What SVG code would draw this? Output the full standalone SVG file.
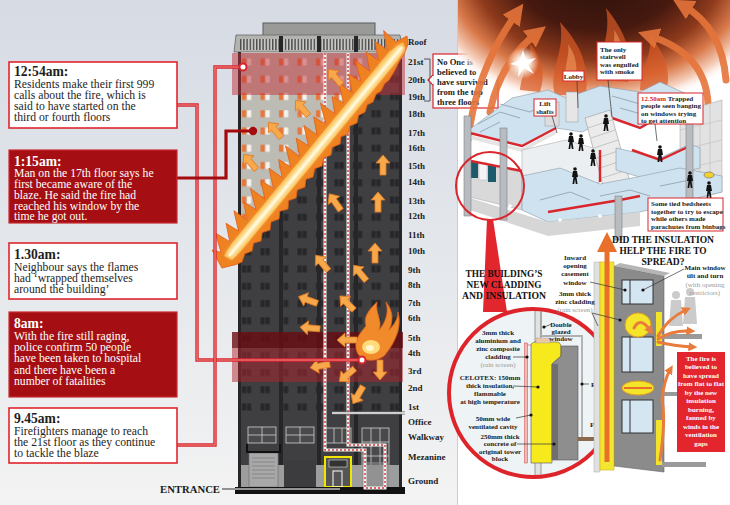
<svg xmlns="http://www.w3.org/2000/svg" width="730" height="505" viewBox="0 0 730 505">
<defs>
<style>
.t{font-family:"Liberation Serif","Times New Roman",serif}
.tt{font-weight:bold;font-size:13.6px}
.tb{font-size:11.7px}
.dk{fill:#1e1e1e}
.wt{fill:#fff}
.fl{font-family:"Liberation Serif",serif;font-weight:bold;font-size:9px;fill:#222}
.sm{font-family:"Liberation Serif",serif;font-weight:bold;font-size:7px;fill:#222}
.gr{font-weight:normal;fill:#999}
.hd{font-family:"Liberation Serif",serif;font-weight:bold;font-size:11px;fill:#111}
.wbox{fill:#fff;stroke:#e0252c;stroke-width:1.6}
.rbox{fill:#a50f14;stroke:#c92a2f;stroke-width:1.2}
.cbox{fill:#fff;stroke:#d9262d;stroke-width:1}
.lead{stroke:#333;stroke-width:.7;fill:none}
.conO{fill:none;stroke:#d8262d;stroke-width:3.4}
.conI{fill:none;stroke:#f08a8a;stroke-width:1.1}
.col{fill:#b8bcc0;stroke:#7d8185;stroke-width:.6}
.slab{fill:#cfe2ef;stroke:#8a9aa8;stroke-width:.6}
.wall{fill:none;stroke:#8c9cab;stroke-width:.8}
.red{fill:none;stroke:#d9262d;stroke-width:2.4}
.oarr{fill:none;stroke:#e5743a;stroke-width:7;stroke-linecap:round;opacity:.9}
</style>
<linearGradient id="bg" x1="0" y1="0" x2="0" y2="1">
<stop offset="0" stop-color="#d6dbe4"/><stop offset=".55" stop-color="#e5e8ec"/><stop offset="1" stop-color="#f3f3f3"/>
</linearGradient>
<radialGradient id="fireBg" cx=".5" cy=".25" r=".62">
<stop offset="0" stop-color="#24100a"/><stop offset=".45" stop-color="#46190f"/><stop offset=".66" stop-color="#8e3a1c"/><stop offset=".8" stop-color="#d9794a"/><stop offset=".92" stop-color="#f6d2bf"/><stop offset="1" stop-color="#fff" stop-opacity="0"/>
</radialGradient>
<radialGradient id="spark"><stop offset="0" stop-color="#fff"/><stop offset=".35" stop-color="#fff6e8"/><stop offset="1" stop-color="#fff" stop-opacity="0"/></radialGradient>
<pattern id="vent" width="3.2" height="11" patternUnits="userSpaceOnUse" x="240" y="39"><rect width="3.2" height="11" fill="#c9c9c5"/><rect width="1.4" height="11" fill="#4a4a4a"/></pattern>
<pattern id="wd" x="238" y="53.5" width="18.5" height="17.25" patternUnits="userSpaceOnUse"><rect x="4" y="5" width="4.2" height="7" fill="#27272a"/><rect x="9" y="5" width="4.2" height="7" fill="#27272a"/></pattern>
<pattern id="wl" x="238" y="53.5" width="18.5" height="17.25" patternUnits="userSpaceOnUse"><rect x="4" y="5" width="4.2" height="7" fill="#e8763a"/><rect x="9" y="5" width="4.2" height="7" fill="#f6f2ec"/></pattern>
<polygon id="arr" points="0,-10 7,-2 3,-2 3,10 -3,10 -3,-2 -7,-2" fill="#f6a84a" stroke="#e27a22" stroke-width=".8"/>
<g id="per"><circle cx="0" cy="-9" r="1.8"/><path d="M-2,-7 H2 L3,-1 H1.5 L2.5,6 H0.8 L0,1 L-0.8,6 H-2.5 L-1.5,-1 H-3 Z"/></g>
<marker id="ah" viewBox="0 0 10 10" refX="4" refY="5" markerWidth="3" markerHeight="3" orient="auto"><path d="M0,0 L10,5 L0,10 Z" fill="#e5743a"/></marker>
<marker id="ah2" viewBox="0 0 10 10" refX="4" refY="5" markerWidth="3" markerHeight="3" orient="auto"><path d="M0,0 L10,5 L0,10 Z" fill="#e97b3c"/></marker>
<clipPath id="cc"><circle cx="533" cy="393" r="84"/></clipPath>
<clipPath id="rp"><rect x="458" y="0" width="272" height="505"/></clipPath>
<filter id="blur" x="-20%" y="-20%" width="140%" height="140%"><feGaussianBlur stdDeviation="2"/></filter>
</defs>

<rect width="730" height="505" fill="url(#bg)"/>
<rect x="458" y="0" width="272" height="505" fill="#fff"/>
<line x1="457.5" y1="0" x2="457.5" y2="505" stroke="#c9cdd3" stroke-width="1"/>

<!-- BUILDING -->
<g id="building">
<rect x="263" y="23" width="112" height="13" fill="#9a9a98" stroke="#5a5a5a" stroke-width="1"/>
<polygon points="236,35 400,35 403,52 234,52" fill="#b3b3b0" stroke="#666" stroke-width=".8"/>
<rect x="240" y="39" width="158" height="11" fill="url(#vent)"/>
<rect x="238" y="52" width="164" height="436" fill="#3f3f41"/>
<rect x="238" y="53" width="164" height="365" fill="url(#wd)"/>
<g fill="#262628">
<rect x="279" y="36" width="4" height="430"/><rect x="317" y="36" width="4" height="430"/><rect x="354" y="36" width="4" height="430"/>
<rect x="238" y="52" width="3" height="436"/><rect x="399" y="52" width="3" height="436"/>
</g>
<polygon points="241,52 397,52 241,243" fill="#bdbcb4"/>
<polygon points="241,52 397,52 241,243" fill="url(#wl)"/>
<g stroke="#cfcfcf" stroke-width=".8" fill="#4a4a4c">
<rect x="248" y="427" width="28" height="16"/><line x1="262" y1="427" x2="262" y2="443"/><line x1="248" y1="435" x2="276" y2="435"/>
<rect x="286" y="427" width="28" height="16"/><line x1="300" y1="427" x2="300" y2="443"/><line x1="286" y1="435" x2="314" y2="435"/>
<rect x="325" y="428" width="26" height="15"/><line x1="334" y1="428" x2="334" y2="443"/><line x1="342" y1="428" x2="342" y2="443"/>
<rect x="362" y="428" width="27" height="58"/><line x1="371" y1="428" x2="371" y2="486"/><line x1="380" y1="428" x2="380" y2="486"/>
<line x1="362" y1="442" x2="389" y2="442"/><line x1="362" y1="456" x2="389" y2="456"/><line x1="362" y1="470" x2="389" y2="470"/>
</g>
<rect x="241" y="465" width="158" height="22" fill="#9d9d9d"/>
<rect x="284" y="460" width="32" height="27" fill="#3c3c3e"/>
<rect x="249" y="453" width="29" height="34" fill="#a8a8a8" stroke="#6a6a6a" stroke-width=".6"/>
<g stroke="#7a7a7a" stroke-width=".7"><line x1="252" y1="458" x2="275" y2="458"/><line x1="252" y1="462" x2="275" y2="462"/><line x1="252" y1="466" x2="275" y2="466"/><line x1="252" y1="470" x2="275" y2="470"/><line x1="252" y1="474" x2="275" y2="474"/><line x1="252" y1="478" x2="275" y2="478"/></g>
<path d="M247,444 V452 H280 V444" fill="none" stroke="#111" stroke-width="2"/>
<rect x="362" y="462" width="27" height="25" fill="#8a8a8a" opacity=".6"/>
<rect x="325" y="457" width="26" height="30" fill="#555" stroke="#f0e600" stroke-width="2"/>
<rect x="329" y="460" width="18" height="7" fill="#333" stroke="#ddd" stroke-width=".6"/>
<rect x="333" y="471" width="9" height="16" fill="none" stroke="#fff" stroke-width="1"/>
<rect x="235" y="487" width="170" height="7" fill="#121212"/>
<rect x="232" y="53" width="173" height="42" fill="#c0303a" opacity=".5"/>
<rect x="232" y="332" width="171" height="16" fill="#6a0d11" opacity=".8"/>
<rect x="232" y="348" width="171" height="34" fill="#b1262d" opacity=".5"/>
<path d="M325,53 V450 H365 V488 H385 V445 H348 V53" fill="none" stroke="#f2f2f2" stroke-width="3"/>
<path d="M325,53 V450 H365 V488 H385 V445 H348 V53" fill="none" stroke="#d2363a" stroke-width="1.4" stroke-dasharray="2 2"/>
<line x1="332" y1="413" x2="405" y2="413" stroke="#666" stroke-width="3"/>
<line x1="332" y1="413" x2="405" y2="413" stroke="#f3f3f3" stroke-width="1.5"/>
<polygon fill="#ef8220" stroke="#e25c18" stroke-width=".8" points="407,36 396,42 383.6,30.6 387.25,49.95 374.9,41.3 378.5,60.6 366.1,51.9 369.75,71.25 355.4,60.6 361,81.9 348.6,74.2 352.25,92.55 338.9,82.9 343.5,103.2 332.1,96.5 334.75,113.85 320.4,103.2 326,124.5 313.6,116.8 317.25,135.15 303.9,125.5 308.5,145.8 296.1,138.1 299.75,156.45 285.4,145.8 291,167.1 278.6,159.4 282.25,177.75 268.9,168.1 273.5,188.4 261.1,180.7 264.75,199.05 250.4,188.4 256,209.7 243.6,202 247.25,220.35 233.9,210.7 238.5,231 226.1,223.3 229.75,241.65 215.4,233 221,252.3 212,250 222,268 236,264.5 242,262 244.75,253.85 252,251 253.5,243.2 261,241 262.25,232.55 270,230 271,221.9 279,219 279.75,211.25 288,209 288.5,200.6 296,198 297.25,189.95 305,187 306,179.3 313,177 314.75,168.65 322,166 323.5,158 331,155 332.25,147.35 340,144 341,136.7 348,134 349.75,126.05 357,123 358.5,115.4 365,112 367.25,104.75 373,102 376,94.1 381,91 384.75,83.45 389,80 393.5,72.8 396,68 400,60 404,55 408,44"/>
<polygon fill="#fbba4c" points="403,42 389.25,51.65 380.5,62.3 371.75,72.95 363,83.6 354.25,94.25 345.5,104.9 336.75,115.55 328,126.2 319.25,136.85 310.5,147.5 301.75,158.15 293,168.8 284.25,179.45 275.5,190.1 266.75,200.75 258,211.4 249.25,222.05 240.5,232.7 231.75,243.35 224,256 232,260 240.75,251.35 249.5,240.7 258.25,230.05 267,219.4 275.75,208.75 284.5,198.1 293.25,187.45 302,176.8 310.75,166.15 319.5,155.5 328.25,144.85 337,134.2 345.75,123.55 354.5,112.9 363.25,102.25 372,91.6 380.75,80.95 389.5,70.3 398.25,59.65 405,48"/>
<polyline points="229,256 271.75,204.75 315.5,151.5 359.25,98.25 402,47" fill="none" stroke="#fff2bd" stroke-width="7" filter="url(#blur)"/>
<polyline points="229,256 271.75,204.75 315.5,151.5 359.25,98.25 402,47" fill="none" stroke="#fff8de" stroke-width="2.5"/>
<path d="M358,354 C352,342 360,333 366,326 C363,316 370,309 377,302 C375,314 383,320 379,330 C386,322 389,312 386,302 C394,312 393,322 389,330 C395,324 398,318 398,312 C402,326 396,342 384,356 C376,362 364,362 358,354 Z" fill="#f08a2a" stroke="#e2621c" stroke-width=".8"/>
<ellipse cx="371" cy="347" rx="9" ry="7" fill="#ffdb7a"/>
<ellipse cx="370" cy="348" rx="4" ry="3" fill="#fff5d0"/>
<use href="#arr" transform="translate(335,77) rotate(-40)"/>
<use href="#arr" transform="translate(302,108) rotate(-40)"/>
<use href="#arr" transform="translate(275,130) rotate(-40)"/>
<use href="#arr" transform="translate(250,162) rotate(-40)"/>
<use href="#arr" transform="translate(383,165)"/>
<use href="#arr" transform="translate(335,202) rotate(-35)"/>
<use href="#arr" transform="translate(378,202)"/>
<use href="#arr" transform="translate(375,253)"/>
<use href="#arr" transform="translate(322,263) rotate(-40)"/>
<use href="#arr" transform="translate(360,273) rotate(-40)"/>
<use href="#arr" transform="translate(308,300) rotate(-70)"/>
<use href="#arr" transform="translate(347,303) rotate(-45)"/>
<use href="#arr" transform="translate(310,328) rotate(-85)"/>
<use href="#arr" transform="translate(347,340) rotate(-90)"/>
<use href="#arr" transform="translate(320,366) rotate(-100)"/>
<use href="#arr" transform="translate(347,375) rotate(-130)"/>
<use href="#arr" transform="translate(380,370) rotate(180)"/>
<use href="#arr" transform="translate(358,395) rotate(-150)"/>
</g>

<g id="floors" class="fl">
<text x="408" y="45">Roof</text><text x="408" y="65">21st</text><text x="408" y="83">20th</text><text x="408" y="100">19th</text>
<text x="408" y="117">18th</text><text x="408" y="136">17th</text><text x="408" y="151">16th</text><text x="408" y="169">15th</text>
<text x="408" y="185">14th</text><text x="408" y="204">13th</text><text x="408" y="219">12th</text><text x="408" y="238">11th</text>
<text x="408" y="254">10th</text><text x="408" y="273">9th</text><text x="408" y="288">8th</text><text x="408" y="306">7th</text>
<text x="408" y="321">6th</text><text x="408" y="341">5th</text><text x="408" y="356">4th</text><text x="408" y="374">3rd</text>
<text x="408" y="391">2nd</text><text x="408" y="410">1st</text><text x="408" y="425">Office</text><text x="408" y="440">Walkway</text>
<text x="408" y="460">Mezanine</text><text x="408" y="484">Ground</text>
</g>
<path d="M424,59 H430 V101 H424" fill="none" stroke="#444" stroke-width=".9"/>

<g id="connectors">
<path class="conO" d="M177,105 H197 V360 H362"/><path class="conI" d="M177,105 H197 V360 H362"/>
<circle cx="362" cy="360" r="3.5" fill="#fff" stroke="#d8262d" stroke-width="2"/>
<path class="conO" d="M177,445 H215 V67 H243"/><path class="conI" d="M177,445 H215 V67 H243"/>
<circle cx="243" cy="67" r="3.5" fill="#fff" stroke="#d8262d" stroke-width="2"/>
<path d="M177,178 H226 V131 H253" fill="none" stroke="#a30b0e" stroke-width="3.2"/>
<circle cx="253" cy="131" r="4.2" fill="#a30b0e"/>
<line x1="222" y1="489" x2="340" y2="489" stroke="#555" stroke-width="2.2"/>
<line x1="222" y1="489" x2="340" y2="489" stroke="#f0f0f0" stroke-width=".8"/>
</g>

<g id="t1254" class="t">
<rect class="wbox" x="9" y="62" width="168" height="66"/>
<text x="14" y="76" class="tt dk">12:54am:</text>
<text class="tb dk"><tspan x="14" y="87.5">Residents make their first 999</tspan><tspan x="14" y="98.5">calls about the fire, which is</tspan><tspan x="14" y="109.5">said to have started on the</tspan><tspan x="14" y="120.5">third or fourth floors</tspan></text>
</g>
<g id="t115" class="t">
<rect class="rbox" x="9" y="150" width="168" height="73"/>
<text x="14" y="165.5" class="tt wt">1:15am:</text>
<text class="tb wt"><tspan x="14" y="176.5">Man on the 17th floor says he</tspan><tspan x="14" y="187.5">first became aware of the</tspan><tspan x="14" y="198.5">blaze. He said the fire had</tspan><tspan x="14" y="209.5">reached his window by the</tspan><tspan x="14" y="220">time he got out.</tspan></text>
</g>
<g id="t130" class="t">
<rect class="wbox" x="9" y="243" width="168" height="56"/>
<text x="14" y="258.5" class="tt dk">1.30am:</text>
<text class="tb dk"><tspan x="14" y="270.5">Neighbour says the flames</tspan><tspan x="14" y="281.5">had  ‘wrapped themselves</tspan><tspan x="14" y="292.5">around the building’</tspan></text>
</g>
<g id="t8" class="t">
<rect class="rbox" x="9" y="312" width="168" height="85"/>
<text x="14" y="327.5" class="tt wt">8am:</text>
<text class="tb wt"><tspan x="14" y="339.5">With the fire still raging,</tspan><tspan x="14" y="350.5">police confirm 50 people</tspan><tspan x="14" y="362">have been taken to hospital</tspan><tspan x="14" y="373.5">and there have been a</tspan><tspan x="14" y="385">number of fatalities</tspan></text>
</g>
<g id="t945" class="t">
<rect class="wbox" x="9" y="408" width="168" height="55"/>
<text x="14" y="422.5" class="tt dk">9.45am:</text>
<text class="tb dk"><tspan x="14" y="434.5">Firefighters manage to reach</tspan><tspan x="14" y="445.5">the 21st floor as they continue</tspan><tspan x="14" y="457">to tackle the blaze</tspan></text>
</g>
<text id="entrance" x="160" y="493" class="t" font-weight="bold" font-size="10.7" fill="#1a1a1a">ENTRANCE</text>

<g id="noone">
<rect x="433" y="54" width="65" height="54" fill="#fff" stroke="#d9262d" stroke-width="1.2"/>
<path d="M433,75 L428,80 L433,85" fill="#fff" stroke="#d9262d" stroke-width="1.2"/>
<line x1="433" y1="76" x2="433" y2="84" stroke="#fff" stroke-width="1.6"/>
<line x1="430" y1="80" x2="428" y2="80" stroke="#444" stroke-width=".9"/>
<text class="t" font-weight="bold" font-size="8.6" fill="#1a1a1a"><tspan x="437" y="64.5">No One is</tspan><tspan x="437" y="74.5">believed to</tspan><tspan x="437" y="84.5">have survived</tspan><tspan x="437" y="94.5">from the top</tspan><tspan x="437" y="104.5">three floors</tspan></text>
</g>

<g id="scene" clip-path="url(#rp)">
<ellipse cx="598" cy="24" rx="152" ry="116" fill="url(#fireBg)"/>
<g fill="#d95a26" opacity=".7">
<path d="M555,95 C548,70 566,52 560,22 C578,42 590,62 586,95 Z"/>
<path d="M600,80 C596,55 612,40 606,8 C624,30 634,52 628,82 Z"/>
<path d="M640,90 C640,70 652,58 650,36 C664,52 672,70 666,92 Z"/>
<path d="M520,90 C522,70 532,60 530,44 C542,58 546,74 540,92 Z"/>
</g>
<g fill="#f4a062" opacity=".55">
<path d="M610,70 C608,55 616,46 614,30 C624,44 626,58 622,72 Z"/>
<path d="M566,78 C564,64 570,56 568,44 C576,56 578,66 575,80 Z"/>
</g>
<path class="oarr" d="M468,140 Q476,70 516,14" marker-end="url(#ah)"/>
<path class="oarr" d="M490,112 Q500,62 536,34" marker-end="url(#ah)"/>
<path class="oarr" d="M708,104 Q706,54 650,36" marker-end="url(#ah)"/>
<path class="oarr" d="M726,80 Q722,28 684,6" marker-end="url(#ah)"/>
<circle cx="523" cy="63" r="16" fill="url(#spark)"/>
<polygon points="523,50 526,60 536,58 528,65 534,74 524,68 518,77 519,66 510,64 520,60" fill="#fff"/>
</g>

<g id="structure">
<polygon class="slab" points="466,132 512,98 548,90 566,98 600,86 640,92 660,82 700,100 698,122 668,112 640,128 612,118 582,132 556,128 522,146"/>
<g class="wall"><polyline points="478,124 500,112 520,118"/><polyline points="500,104 530,112 545,104"/><polyline points="480,132 500,122"/><polyline points="612,96 640,104 660,96"/><polyline points="620,108 648,116"/></g>
<polyline class="red" points="466,132 522,146 556,128"/>
<polyline class="red" points="612,118 640,128 668,112"/>
<polygon points="466,134 522,148 556,130 556,134 522,152 466,138" fill="#e4e4e4"/>
<rect x="566" y="92" width="12" height="30" fill="#e6e6e6" stroke="#999" stroke-width=".5"/>
<rect x="545" y="102" width="14" height="24" fill="#ddd" stroke="#999" stroke-width=".5"/>
<polygon points="680,112 722,100 722,192 680,202" fill="#e2e2e2" stroke="#a0a0a0" stroke-width=".5"/>
<g stroke="#bdbdbd" stroke-width=".6"><line x1="690" y1="110" x2="690" y2="200"/><line x1="700" y1="107" x2="700" y2="197"/><line x1="710" y1="104" x2="710" y2="195"/><line x1="680" y1="130" x2="722" y2="120"/><line x1="680" y1="150" x2="722" y2="140"/><line x1="680" y1="170" x2="722" y2="160"/></g>
<polygon points="522,150 566,140 600,150 600,182 562,192 522,178" fill="#eceff2" stroke="#a0a0a0" stroke-width=".5"/>
<polygon points="585,118 610,110 634,196 608,204" fill="#ebebeb" stroke="#999" stroke-width=".6"/>
<g stroke="#aaa" stroke-width=".6"><line x1="588" y1="128" x2="612" y2="120"/><line x1="591" y1="138" x2="615" y2="130"/><line x1="594" y1="148" x2="618" y2="140"/><line x1="597" y1="158" x2="621" y2="150"/><line x1="600" y1="168" x2="624" y2="160"/><line x1="602" y1="178" x2="627" y2="170"/><line x1="605" y1="188" x2="630" y2="180"/></g>
<polyline class="red" points="600,150 600,182"/>
<polygon class="slab" points="616,148 660,158 690,144 700,148 700,168 650,180 616,170"/>
<polyline class="red" points="632,150 660,160 690,146"/>
<polygon points="466,162 522,172 522,210 466,196" fill="#d9d9d9" stroke="#a0a0a0" stroke-width=".5"/>
<rect x="470" y="161" width="8" height="17" fill="#1d5a6c"/><rect x="479" y="163" width="8" height="17" fill="#f4f4f4" stroke="#aaa" stroke-width=".4"/><rect x="488" y="165" width="8" height="17" fill="#1d5a6c"/>
<polyline class="red" points="466,160 522,171"/>
<polygon class="slab" points="522,176 560,168 600,184 632,178 680,168 722,176 722,192 640,212 548,222 522,210" fill="#c3dbec"/>
<g class="wall"><polyline points="540,200 570,192 590,200"/><polyline points="600,196 630,190 650,196"/><polyline points="660,186 690,180"/></g>
<polyline class="red" points="548,212 620,200 640,196"/>
<polygon points="470,198 548,222 640,212 640,226 548,236 470,210" fill="#d6d6d6"/>
<circle cx="510" cy="206" r="1.8" fill="#fff"/><circle cx="560" cy="220" r="1.8" fill="#fff"/><circle cx="600" cy="216" r="1.8" fill="#fff"/>
<rect x="464" y="116" width="7" height="100" class="col"/>
<rect x="500" y="128" width="7" height="92" class="col"/>
<rect x="615" y="196" width="7" height="44" class="col"/>
<rect x="686" y="96" width="7" height="104" class="col"/>
<circle cx="490" cy="186" r="34" fill="none" stroke="#d9262d" stroke-width="2"/>
<g fill="#111">
<use href="#per" x="571" y="143"/><use href="#per" x="581" y="145"/><use href="#per" x="606" y="125"/>
<use href="#per" x="593" y="160"/><use href="#per" x="575" y="178"/><use href="#per" x="660" y="156"/>
<use href="#per" x="690" y="182"/><use href="#per" x="709" y="192"/>
</g>
<ellipse cx="709" cy="175" rx="5" ry="3" fill="#f0d030" stroke="#555" stroke-width=".5"/>
</g>

<g id="lobby"><rect class="cbox" x="563" y="71" width="21" height="10"/><text class="sm" x="573.5" y="78.5" text-anchor="middle">Lobby</text><line class="lead" x1="577" y1="81" x2="578" y2="108"/></g>
<g id="lift"><rect class="cbox" x="534" y="99" width="22" height="17"/><text class="sm" text-anchor="middle"><tspan x="545" y="106">Lift</tspan><tspan x="545" y="114">shafts</tspan></text><line class="lead" x1="552" y1="116" x2="557" y2="133"/></g>
<g id="stair"><rect class="cbox" x="597" y="42" width="45" height="38"/><text class="sm"><tspan x="600" y="51.5">The only</tspan><tspan x="600" y="59">stairwell</tspan><tspan x="600" y="66.5">was engulfed</tspan><tspan x="600" y="74">with smoke</tspan></text><line class="lead" x1="608" y1="80" x2="612" y2="117"/></g>
<g id="trapped"><rect class="cbox" x="638" y="93" width="65" height="31"/><text class="sm" font-size="6.8"><tspan x="641" y="100.5"><tspan fill="#d9262d">12.50am</tspan> Trapped</tspan><tspan x="641" y="108">people seen banging</tspan><tspan x="641" y="115.5">on windows trying</tspan><tspan x="641" y="123">to get attention</tspan></text><line class="lead" x1="655" y1="124" x2="657" y2="141"/></g>
<g id="bedsheets"><rect class="cbox" x="648" y="198" width="75" height="33"/><text class="sm" font-size="6.6"><tspan x="651" y="206">Some tied bedsheets</tspan><tspan x="651" y="213.5">together to try to escape</tspan><tspan x="651" y="221">while others made</tspan><tspan x="651" y="228.5">parachutes from binbags</tspan></text></g>

<g id="cladding">
<polygon points="487,219 493,219 507,312 483,312" fill="#e2262d"/>
<text class="hd" text-anchor="middle"><tspan x="504" y="277" textLength="77" lengthAdjust="spacingAndGlyphs">THE BUILDING’S</tspan><tspan x="504" y="288" textLength="75" lengthAdjust="spacingAndGlyphs">NEW CLADDING</tspan><tspan x="504" y="299" textLength="84" lengthAdjust="spacingAndGlyphs">AND INSULATION</tspan></text>
<circle cx="533" cy="393" r="84" fill="#eef3f6"/>
<g clip-path="url(#cc)">
<rect x="535" y="300" width="6" height="42" fill="#e2e2e2" stroke="#666" stroke-width=".6"/>
<rect x="535" y="462" width="6" height="30" fill="#e2e2e2" stroke="#666" stroke-width=".6"/>
<rect x="524.5" y="343" width="3" height="120" fill="#f3b8b2" stroke="#c44" stroke-width=".5"/>
<path d="M527.5,345 H531" stroke="#c44" stroke-width=".6"/>
<path d="M531,346 Q531,342 536,342 H556 Q561,342 561,347 V356 L552,364 V463 H531 Z" fill="#f6ea1c" stroke="#555" stroke-width=".6"/>
<path d="M552,364 L561,356 V346 H578 V460 H552 Z" fill="#8e8e8e" stroke="#555" stroke-width=".6"/>
<rect x="552" y="364" width="6" height="96" fill="#6f6f6f"/>
<rect x="536" y="338" width="14" height="5" fill="#ecc9a6" stroke="#999" stroke-width=".4"/>
<path d="M541,300 V336 H582 V438" fill="none" stroke="#777" stroke-width="1.4"/>
<path d="M541,300 V336 H582 V438" fill="none" stroke="#fff" stroke-width=".5"/>
<rect x="578" y="437" width="24" height="4" fill="#8a6a4a"/>
</g>
<circle cx="533" cy="393" r="84" fill="none" stroke="#de242b" stroke-width="4"/>
<g class="sm" font-size="6.9" text-anchor="middle">
<text><tspan x="498" y="335">3mm thick</tspan><tspan x="498" y="343">aluminium and</tspan><tspan x="498" y="351">zinc composite</tspan><tspan x="498" y="359">cladding</tspan><tspan x="498" y="367" class="gr">(rain screen)</tspan></text>
<text><tspan x="490" y="380">CELOTEX: 150mm</tspan><tspan x="490" y="388">thick insulation,</tspan><tspan x="490" y="396">flammable</tspan><tspan x="490" y="404">at high temperature</tspan></text>
<text><tspan x="493" y="421">50mm wide</tspan><tspan x="493" y="429">ventilated cavity</tspan></text>
<text><tspan x="500" y="439">250mm thick</tspan><tspan x="500" y="446">concrete of</tspan><tspan x="500" y="454">original tower</tspan><tspan x="500" y="461">block</tspan></text>
<text><tspan x="561" y="327">Double</tspan><tspan x="561" y="334">glazed</tspan><tspan x="561" y="341">window</tspan></text>
</g>
<text class="sm" font-size="6.9" x="591" y="386.5">Plaster</text>
<text class="sm" font-size="6.9" x="590" y="426.5">Floor</text>
<g class="lead"><line x1="513" y1="357" x2="526" y2="357"/><line x1="513" y1="386" x2="538" y2="387"/><line x1="516" y1="418" x2="531" y2="415"/><line x1="517" y1="444" x2="554" y2="444"/><line x1="544" y1="327" x2="552" y2="324"/><line x1="582" y1="384" x2="589" y2="384"/><line x1="596" y1="429" x2="596" y2="438"/></g>
<g fill="#111"><circle cx="527" cy="357" r="1.6"/><circle cx="538" cy="387" r="1.6"/><circle cx="531" cy="415" r="1.6"/><circle cx="554" cy="444" r="1.6"/><circle cx="544" cy="327" r="1.6"/><circle cx="582" cy="384" r="1.6"/><circle cx="596" cy="438" r="1.6"/></g>
</g>

<g id="spread">
<polygon points="614,266 664,276 664,472 614,466" fill="#8b8b8b" stroke="#666" stroke-width=".6"/>
<polygon points="614,266 664,276 670,273 620,263" fill="#b5b5b5"/>
<g fill="#d4e6f2" stroke="#333" stroke-width="1"><rect x="622" y="280" width="31" height="24"/><rect x="622" y="337" width="31" height="35"/><rect x="622" y="400" width="31" height="33"/></g>
<g stroke="#333" stroke-width="1"><line x1="630" y1="280" x2="630" y2="304"/><line x1="630" y1="337" x2="630" y2="372"/><line x1="630" y1="400" x2="630" y2="433"/></g>
<ellipse cx="638" cy="325" rx="13" ry="12" fill="#f5e52a" stroke="#e3a01e" stroke-width="1"/>
<ellipse cx="638" cy="388" rx="16" ry="7" fill="#f5e52a" stroke="#e3a01e" stroke-width="1"/>
<line x1="624" y1="388" x2="652" y2="388" stroke="#e8702a" stroke-width="2"/>
<g fill="#9a9a9a"><rect x="662" y="334" width="40" height="5"/><rect x="662" y="392" width="22" height="4"/><rect x="662" y="462" width="44" height="5"/></g>
<rect x="656" y="312" width="6" height="34" fill="#f2e22a"/>
<rect x="656" y="420" width="6" height="45" fill="#f2e22a"/>
<rect x="594" y="262" width="6" height="210" fill="#e0e0e0" stroke="#aaa" stroke-width=".5"/>
<rect x="600" y="262" width="14" height="208" fill="#f3e62e" stroke="#d8b020" stroke-width=".6"/>
<line x1="607" y1="462" x2="607" y2="250" stroke="#e8702a" stroke-width="5"/>
<polygon points="597,252 617,252 607,232" fill="#e8702a"/>
<g fill="#cbcbcb"><circle cx="676" cy="295" r="4"/><path d="M671,300 H681 L683,326 H669 Z"/><circle cx="690" cy="292" r="4"/><path d="M685,297 H695 L697,324 H683 Z"/></g>
<g fill="none" stroke="#e97b3c" stroke-width="3" stroke-linecap="round">
<path d="M658,336 Q668,318 686,310" marker-end="url(#ah2)"/><path d="M658,339 Q672,330 690,331" marker-end="url(#ah2)"/><path d="M658,342 Q674,346 692,347" marker-end="url(#ah2)"/>
<path d="M634,328 Q640,316 650,330" marker-end="url(#ah2)"/>
<path d="M660,460 Q666,420 662,400 Q664,380 670,370" marker-end="url(#ah2)"/>
</g>
<text class="hd" font-size="10.6" text-anchor="middle"><tspan x="663" y="243" textLength="102" lengthAdjust="spacingAndGlyphs">DID THE INSULATION</tspan><tspan x="663" y="254" textLength="87" lengthAdjust="spacingAndGlyphs">HELP THE FIRE TO</tspan><tspan x="663" y="265" textLength="43" lengthAdjust="spacingAndGlyphs">SPREAD?</tspan></text>
<text class="sm" text-anchor="middle"><tspan x="575" y="260">Inward</tspan><tspan x="575" y="268">opening</tspan><tspan x="575" y="276">casement</tspan><tspan x="575" y="284.5">window</tspan><tspan x="575" y="296">3mm thick</tspan><tspan x="575" y="304">zinc cladding</tspan><tspan x="575" y="312" class="gr">(rain screen)</tspan></text>
<text class="sm" text-anchor="middle"><tspan x="705" y="270">Main window</tspan><tspan x="705" y="278">tilt and turn</tspan><tspan x="705" y="286.5" class="gr">(with opening</tspan><tspan x="705" y="294.5" class="gr">restrictors)</tspan></text>
<g class="lead"><line x1="590" y1="282" x2="625" y2="290"/><line x1="592" y1="313" x2="620" y2="320"/><line x1="592" y1="313" x2="598" y2="326"/><line x1="684" y1="269" x2="643" y2="290"/></g>
<g fill="#111"><circle cx="625" cy="290" r="1.6"/><circle cx="620" cy="320" r="1.6"/><circle cx="643" cy="290" r="1.6"/></g>
<rect x="677" y="352" width="48" height="100" fill="#e3262d"/>
<text class="sm" font-size="7.2" text-anchor="middle" style="fill:#fff"><tspan x="701" y="360.5">The fire is</tspan><tspan x="701" y="369">believed to</tspan><tspan x="701" y="377.5">have spread</tspan><tspan x="701" y="386">from flat to flat</tspan><tspan x="701" y="394.5">by the new</tspan><tspan x="701" y="403">insulation</tspan><tspan x="701" y="411.5">burning,</tspan><tspan x="701" y="420">fanned by</tspan><tspan x="701" y="428.5">winds in the</tspan><tspan x="701" y="437">ventilation</tspan><tspan x="701" y="445.5">gaps</tspan></text>
</g>
</svg>
